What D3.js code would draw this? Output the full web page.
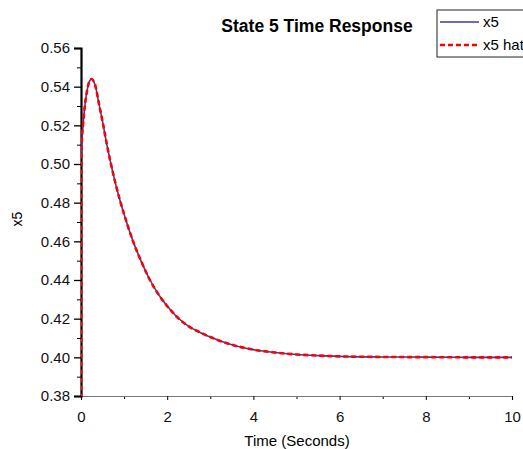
<!DOCTYPE html>
<html>
<head>
<meta charset="utf-8">
<script src="https://cdn.jsdelivr.net/npm/d3@7"></script>
<style>
  body { margin: 0; background: #fff; }
  text { font-family: Arial, "Liberation Sans", sans-serif; }
</style>
</head>
<body>
<svg id="chart"></svg>
<script>
// values
var timeX5 = [0, 0.05, 0.1, 0.15, 0.2, 0.25, 0.3, 0.35, 0.4, 0.5, 0.6, 0.7, 0.8, 0.9, 1.0, 1.2, 1.4, 1.6, 1.8, 2.0, 2.2, 2.5, 2.8, 3.0, 3.5, 4.0, 4.5, 5.0, 5.5, 6.0, 7.0, 8.0, 9.0, 10.0];
var valuesX5 = [0.505, 0.521, 0.532, 0.539, 0.543, 0.544, 0.5425, 0.539, 0.533, 0.522, 0.510, 0.4995, 0.490, 0.4815, 0.474, 0.4605, 0.4495, 0.440, 0.4325, 0.4265, 0.4215, 0.416, 0.4125, 0.4105, 0.4065, 0.404, 0.4025, 0.4015, 0.4009, 0.4005, 0.4002, 0.4001, 0.4, 0.4];
var timeHat = [0, 0.01, 0.05, 0.1, 0.15, 0.2, 0.25, 0.3, 0.35, 0.4, 0.5, 0.6, 0.7, 0.8, 0.9, 1.0, 1.2, 1.4, 1.6, 1.8, 2.0, 2.2, 2.5, 2.8, 3.0, 3.5, 4.0, 4.5, 5.0, 5.5, 6.0, 7.0, 8.0, 9.0, 10.0];
var valuesHat = [0.30, 0.508, 0.521, 0.532, 0.539, 0.543, 0.544, 0.5425, 0.539, 0.533, 0.522, 0.510, 0.4995, 0.490, 0.4815, 0.474, 0.4605, 0.4495, 0.440, 0.4325, 0.4265, 0.4215, 0.416, 0.4125, 0.4105, 0.4065, 0.404, 0.4025, 0.4015, 0.4009, 0.4005, 0.4002, 0.4001, 0.4, 0.4];
var yTicks = [0.38, 0.40, 0.42, 0.44, 0.46, 0.48, 0.50, 0.52, 0.54, 0.56];
var xTicks = [0, 2, 4, 6, 8, 10];
var seriesNames = ["x5", "x5 hat"];

var width = 523, height = 449;
var margin = { top: 48, right: 11, bottom: 53, left: 81 };

var svg = d3.select("#chart").attr("width", width).attr("height", height);

var x = d3.scaleLinear().domain([0, 10]).range([margin.left, width - margin.right]);
var y = d3.scaleLinear().domain([0.38, 0.56]).range([height - margin.bottom, margin.top]);

svg.append("clipPath").attr("id", "clip")
  .append("rect")
  .attr("x", margin.left).attr("y", margin.top)
  .attr("width", width - margin.left - margin.right)
  .attr("height", height - margin.top - margin.bottom);

var line = d3.line()
  .x(function (d) { return x(d[0]); })
  .y(function (d) { return y(d[1]); })
  .curve(d3.curveMonotoneX);

var dataX5 = timeX5.map(function (t, i) { return [t, valuesX5[i]]; });
var dataHat = timeHat.map(function (t, i) { return [t, valuesHat[i]]; });

// x axis
var xMinor = d3.axisBottom(x).tickValues(d3.range(1, 10, 2)).tickSize(3).tickFormat("");
svg.append("g").attr("transform", "translate(0," + y(0.38) + ")").call(xMinor)
  .call(function (g) { g.select(".domain").remove(); });
var xAxis = d3.axisBottom(x).tickValues(xTicks).tickSize(4).tickPadding(11).tickFormat(d3.format("d"));
var gx = svg.append("g").attr("transform", "translate(0," + y(0.38) + ")").call(xAxis);
gx.select(".domain").attr("stroke", "#777").attr("stroke-width", 1.2);
gx.selectAll("text").style("font-size", "15px").attr("fill", "#111");

// y axis
var yMinor = d3.axisLeft(y).tickValues(d3.range(0.39, 0.56, 0.02)).tickSize(4).tickFormat("");
svg.append("g").attr("transform", "translate(" + x(0) + ",0)").call(yMinor)
  .call(function (g) { g.select(".domain").remove(); });
var yAxis = d3.axisLeft(y).tickValues(yTicks).tickSize(7).tickPadding(4).tickFormat(d3.format(".2f"));
var gy = svg.append("g").attr("transform", "translate(" + x(0) + ",0)").call(yAxis);
gy.select(".domain").attr("stroke-width", 2.2);
gy.selectAll(".tick line").attr("stroke-width", 1.3);
gy.selectAll("text").style("font-size", "15px").attr("fill", "#111");

// lines
var plot = svg.append("g").attr("clip-path", "url(#clip)");
plot.append("path").datum(dataX5)
  .attr("d", line).attr("fill", "none")
  .attr("stroke", "#3b3ba0").attr("stroke-width", 1.6);
plot.append("path").datum(dataHat)
  .attr("d", line).attr("fill", "none")
  .attr("stroke", "#ff0000").attr("stroke-width", 2.6)
  .attr("stroke-dasharray", "5,3");

// labels
svg.append("text")
  .attr("x", 317)
  .attr("y", 32)
  .attr("text-anchor", "middle")
  .style("font-size", "17.5px").style("font-weight", "bold")
  .text("State 5 Time Response");

svg.append("text")
  .attr("x", 297)
  .attr("y", 446)
  .attr("text-anchor", "middle")
  .style("font-size", "15px")
  .text("Time (Seconds)");

svg.append("text")
  .attr("transform", "translate(22," + (y(0.47) - 3) + ")rotate(-90)")
  .attr("text-anchor", "middle")
  .style("font-size", "14px")
  .text("x5");

// legend
var legend = svg.append("g").attr("transform", "translate(437,10)");
legend.append("rect").attr("width", 100).attr("height", 47)
  .attr("fill", "#fff").attr("stroke", "#222").attr("stroke-width", 1);
seriesNames.forEach(function (name, i) {
  var ly = 12 + i * 23;
  legend.append("line")
    .attr("x1", 3).attr("x2", 42).attr("y1", ly).attr("y2", ly)
    .attr("stroke", i === 0 ? "#3b3ba0" : "#ff0000")
    .attr("stroke-width", i === 0 ? 1.6 : 2.6)
    .attr("stroke-dasharray", i === 0 ? null : "5,3");
  legend.append("text")
    .attr("x", 46).attr("y", ly + 5)
    .style("font-size", "15px")
    .text(name);
});
</script>
</body>
</html>
